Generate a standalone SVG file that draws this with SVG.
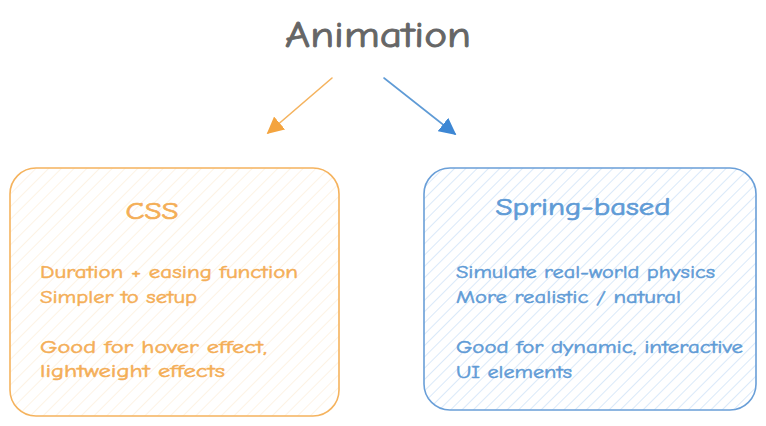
<svg xmlns="http://www.w3.org/2000/svg" width="766" height="426" viewBox="0 0 766 426">
<style>
.t{font-family:"Comic Neue","Lato","Open Sans",sans-serif;stroke-width:0.5;}
.title{font-size:36px;fill:#666666;stroke:#666666;stroke-width:0.9;}
.h{font-size:24px;stroke-width:0.7;}
.b{font-size:18px;}
.o{fill:#f4ae57;stroke:#f4ae57;}
.bl{fill:#5f9bd6;stroke:#5f9bd6;}
</style>
<defs>
<pattern id="hO" width="9" height="9" patternUnits="userSpaceOnUse" patternTransform="rotate(45)">
<line x1="0" y1="0" x2="0" y2="9" stroke="#fbe7cb" stroke-width="1"/>
</pattern>
<pattern id="hB" width="8" height="8" patternUnits="userSpaceOnUse" patternTransform="rotate(45)">
<line x1="0" y1="0" x2="0" y2="8" stroke="#b5d3f4" stroke-width="1"/>
</pattern>
<marker id="aO" viewBox="0 0 10 10" refX="9" refY="5" markerWidth="17" markerHeight="17" markerUnits="userSpaceOnUse" orient="auto">
<path d="M0,0 L10,5 L0,10 z" fill="#f4a43f"/>
</marker>
<marker id="aB" viewBox="0 0 10 10" refX="9" refY="5" markerWidth="17" markerHeight="17" markerUnits="userSpaceOnUse" orient="auto">
<path d="M0,0 L10,5 L0,10 z" fill="#3d87d4"/>
</marker>
</defs>
<rect width="766" height="426" fill="#ffffff"/>
<g id="title">
<text class="t title" x="378" y="47" text-anchor="middle" textLength="186" lengthAdjust="spacingAndGlyphs">Animation</text>
</g>
<g id="connectors" fill="none" stroke-width="1.6" stroke-linecap="round">
<path d="M332,78 L268,133" stroke="#f5b35e" marker-end="url(#aO)"/>
<path d="M384,78 L455,134" stroke="#5f9bd6" marker-end="url(#aB)"/>
</g>
<g id="css">
<rect x="10" y="168" width="329" height="248" rx="26" fill="url(#hO)" stroke="#f5b35e" stroke-width="1.6"/>
<text class="t h o" x="152" y="219" text-anchor="middle" textLength="53" lengthAdjust="spacingAndGlyphs">CSS</text>
<text class="t b o" x="40" y="278" textLength="258" lengthAdjust="spacingAndGlyphs">Duration + easing function</text>
<text class="t b o" x="40" y="303" textLength="157" lengthAdjust="spacingAndGlyphs">Simpler to setup</text>
<text class="t b o" x="40" y="353" textLength="227" lengthAdjust="spacingAndGlyphs">Good for hover effect,</text>
<text class="t b o" x="40" y="377" textLength="185" lengthAdjust="spacingAndGlyphs">lightweight effects</text>
</g>
<g id="spring">
<rect x="424" y="168" width="332" height="242" rx="26" fill="url(#hB)" stroke="#6a9fd8" stroke-width="1.6"/>
<text class="t h bl" x="583" y="215" text-anchor="middle" textLength="175" lengthAdjust="spacingAndGlyphs">Spring-based</text>
<text class="t b bl" x="456" y="278" textLength="259" lengthAdjust="spacingAndGlyphs">Simulate real-world physics</text>
<text class="t b bl" x="456" y="303" textLength="225" lengthAdjust="spacingAndGlyphs">More realistic / natural</text>
<text class="t b bl" x="456" y="353" textLength="287" lengthAdjust="spacingAndGlyphs">Good for dynamic, interactive</text>
<text class="t b bl" x="456" y="378" textLength="116" lengthAdjust="spacingAndGlyphs">UI elements</text>
</g>
</svg>
